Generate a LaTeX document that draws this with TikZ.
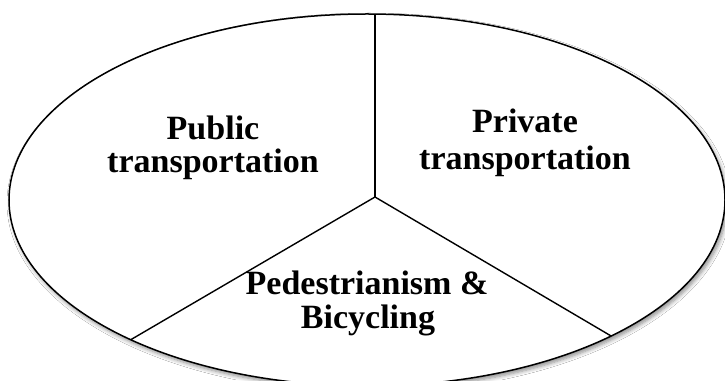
\documentclass[tikz,border=0pt]{standalone}
\usepackage{fontspec}
\setmainfont{Liberation Serif}
\usetikzlibrary{shadows.blur}
\begin{document}
\begin{tikzpicture}[x=1pt,y=1pt,
  rim/.style={draw=black,line width=1.5pt,fill=white,
    blur shadow={shadow xshift=2pt,shadow yshift=-3pt,shadow blur steps=6,shadow blur radius=4pt,shadow opacity=45}},
  spoke/.style={draw=black,line width=1.4pt},
  label/.style={font=\bfseries\fontsize{34}{35}\selectfont,align=center,inner sep=0pt}]
\useasboundingbox (0,0) rectangle (725,380);
\fill[white] (0,0) rectangle (725,380);
\path[rim] (367,180) ellipse [x radius=358, y radius=186];
\coordinate (C) at (375,183);
\coordinate (L) at ($(367,180)+(228.7:358 and 186)$);
\coordinate (R) at ($(367,180)+(313:358 and 186)$);
\coordinate (T) at (375,366);
\path[spoke] (C) -- (T);
\path[spoke] (C) -- (L);
\path[spoke] (C) -- (R);
\node[label,anchor=base] (pub1) at (213,240) {Public};
\node[label,anchor=base] (pub2) at (213,207) {transportation};
\node[label,anchor=base] (pri1) at (525,247) {Private};
\node[label,anchor=base] (pri2) at (525,210) {transportation};
\node[label,anchor=base] (ped1) at (367,85) {Pedestrianism \&};
\node[label,anchor=base] (ped2) at (368,52) {Bicycling};
\end{tikzpicture}
\end{document}
